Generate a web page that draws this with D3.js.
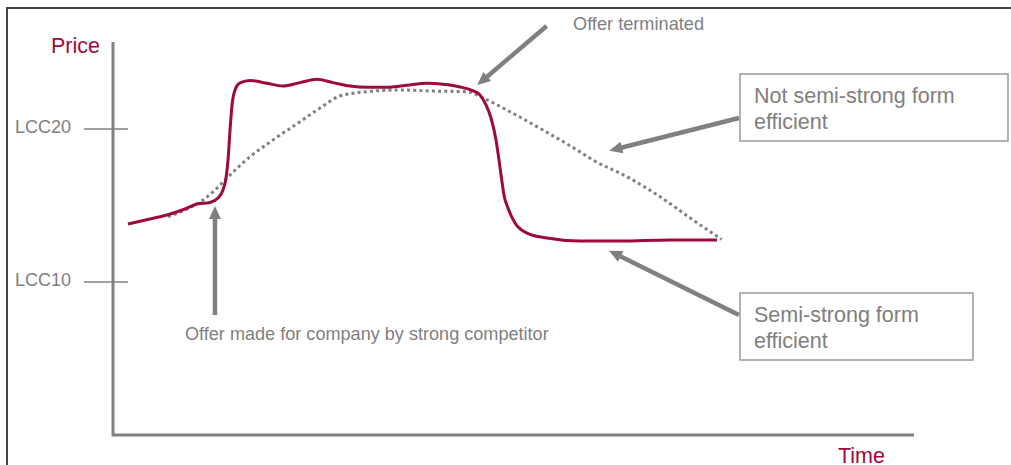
<html>
<head>
<script src="https://d3js.org/d3.v7.min.js"></script>
<style>
  body { margin: 0; background: #fff; }
  text { font-family: "Liberation Sans", Arial, sans-serif; }
</style>
</head>
<body>
<div id="container"></div>
<script>
// time (arbitrary units) and price values
const actualTime  = [1.87, 4.62, 6.74, 8.99, 10.49, 12.11, 13.11, 13.73, 14.11, 14.36, 14.61, 14.86, 15.23, 15.86, 17.10,
                     19.23, 21.22, 23.35, 25.47, 27.47, 29.59, 31.71, 34.58, 36.70, 39.20, 41.20, 43.32, 44.82, 45.82,
                     46.57, 47.19, 47.82, 48.19, 48.50, 48.81, 49.31, 50.19, 51.69, 54.18, 58.30, 63.30, 69.54, 75.41]
const actualPrice = [13.79, 14.12, 14.38, 14.77, 15.10, 15.20, 15.49, 16.01, 16.80, 17.97, 19.93, 21.57, 22.55, 23.01, 23.17,
                     22.99, 22.81, 23.03, 23.25, 23.03, 22.81, 22.73, 22.73, 22.86, 22.99, 22.92, 22.75, 22.52, 22.22,
                     21.57, 20.72, 19.28, 17.97, 16.80, 15.69, 14.84, 13.86, 13.20, 12.88, 12.68, 12.68, 12.75, 12.75]

const slowTime  = [6.87, 8.99, 11.24, 12.73, 14.23, 17.10, 19.98, 23.35, 25.84, 28.34, 31.71, 35.83, 39.95, 44.19,
                   46.19, 49.56, 53.68, 57.93, 59.93, 64.17, 68.29, 72.41, 75.99]
const slowPrice = [14.27, 14.71, 15.36, 16.01, 16.80, 18.19, 19.28, 20.48, 21.37, 22.16, 22.44, 22.55, 22.48, 22.44,
                   22.03, 21.13, 19.93, 18.63, 17.97, 16.88, 15.58, 14.05, 12.79]

const tickValues = [10, 20]
const tickLabels = ['LCC10', 'LCC20']

// arrows: [fromTime, fromPrice, toTime, toPrice]
const arrows = [
  [12.73, 7.84, 12.73, 14.97],
  [54.14, 26.73, 45.48, 22.88],
  [78.15, 20.72, 61.96, 18.58],
  [78.15, 7.84, 61.92, 12.05]
]

const red = '#9e0a3e'
const grey = '#808080'
const width = 1011, height = 465

const svg = d3.select('#container')
  .append('svg')
  .attr('width', width)
  .attr('height', height)

const x = d3.scaleLinear().domain([0, 100]).range([113, 914])
const y = d3.scaleLinear().domain([10, 20]).range([282, 129])

// slide frame
svg.append('path')
  .attr('d', `M7,${height} L7,8 L${width},8`)
  .attr('fill', 'none')
  .attr('stroke', '#444')
  .attr('stroke-width', 2)

// axes
svg.append('path')
  .attr('d', `M113,42 L113,435 L914,435`)
  .attr('fill', 'none')
  .attr('stroke', grey)
  .attr('stroke-width', 3)

svg.selectAll('.tick')
  .data(tickValues)
  .enter()
  .append('line')
  .attr('x1', 84).attr('x2', 128)
  .attr('y1', d => y(d)).attr('y2', d => y(d))
  .attr('stroke', grey)
  .attr('stroke-width', 1.5)

svg.selectAll('.ticklabel')
  .data(tickValues)
  .enter()
  .append('text')
  .attr('x', 15)
  .attr('y', d => y(d) + 4)
  .attr('font-size', 18)
  .attr('fill', grey)
  .text((d, i) => tickLabels[i])

svg.append('text').attr('x', 51).attr('y', 53).attr('font-size', 21.5).attr('fill', red).text('Price')
svg.append('text').attr('x', 838).attr('y', 463).attr('font-size', 21.5).attr('fill', red).text('Time')

// dotted series
const line = d3.line().x(d => x(d[0])).y(d => y(d[1])).curve(d3.curveMonotoneX)

svg.append('path')
  .datum(d3.zip(slowTime, slowPrice))
  .attr('d', line)
  .attr('fill', 'none')
  .attr('stroke', grey)
  .attr('stroke-width', 3)
  .attr('stroke-dasharray', '3,3.2')

svg.append('path')
  .datum(d3.zip(actualTime, actualPrice))
  .attr('d', line)
  .attr('fill', 'none')
  .attr('stroke', red)
  .attr('stroke-width', 3)

// arrows
arrows.forEach(a => {
  const x1 = x(a[0]), y1 = y(a[1]), x2 = x(a[2]), y2 = y(a[3])
  const len = Math.hypot(x2 - x1, y2 - y1)
  const ux = (x2 - x1) / len, uy = (y2 - y1) / len
  const hl = 13, hw = 6
  const bx = x2 - ux * hl, by = y2 - uy * hl
  svg.append('line')
    .attr('x1', x1).attr('y1', y1).attr('x2', bx + ux).attr('y2', by + uy)
    .attr('stroke', grey).attr('stroke-width', 4.5)
  svg.append('path')
    .attr('d', `M${x2},${y2} L${bx - uy * hw},${by + ux * hw} L${bx + uy * hw},${by - ux * hw} Z`)
    .attr('fill', grey)
})

// annotations
svg.append('text').attr('x', 573).attr('y', 30).attr('font-size', 18.2).attr('fill', grey).text('Offer terminated')
svg.append('text').attr('x', 185).attr('y', 340).attr('font-size', 18.1).attr('fill', grey)
  .text('Offer made for company by strong competitor')

const boxes = [
  { x: 740, y: 74, w: 268, h: 67, lines: ['Not semi-strong form', 'efficient'] },
  { x: 740, y: 293, w: 233, h: 67, lines: ['Semi-strong form', 'efficient'] }
]
boxes.forEach(b => {
  svg.append('rect')
    .attr('x', b.x).attr('y', b.y).attr('width', b.w).attr('height', b.h)
    .attr('fill', '#fff').attr('stroke', '#999').attr('stroke-width', 1.5)
  b.lines.forEach((t, i) => {
    svg.append('text')
      .attr('x', b.x + 14).attr('y', b.y + 29 + i * 26)
      .attr('font-size', 21.5).attr('fill', grey).text(t)
  })
})
</script>
</body>
</html>
